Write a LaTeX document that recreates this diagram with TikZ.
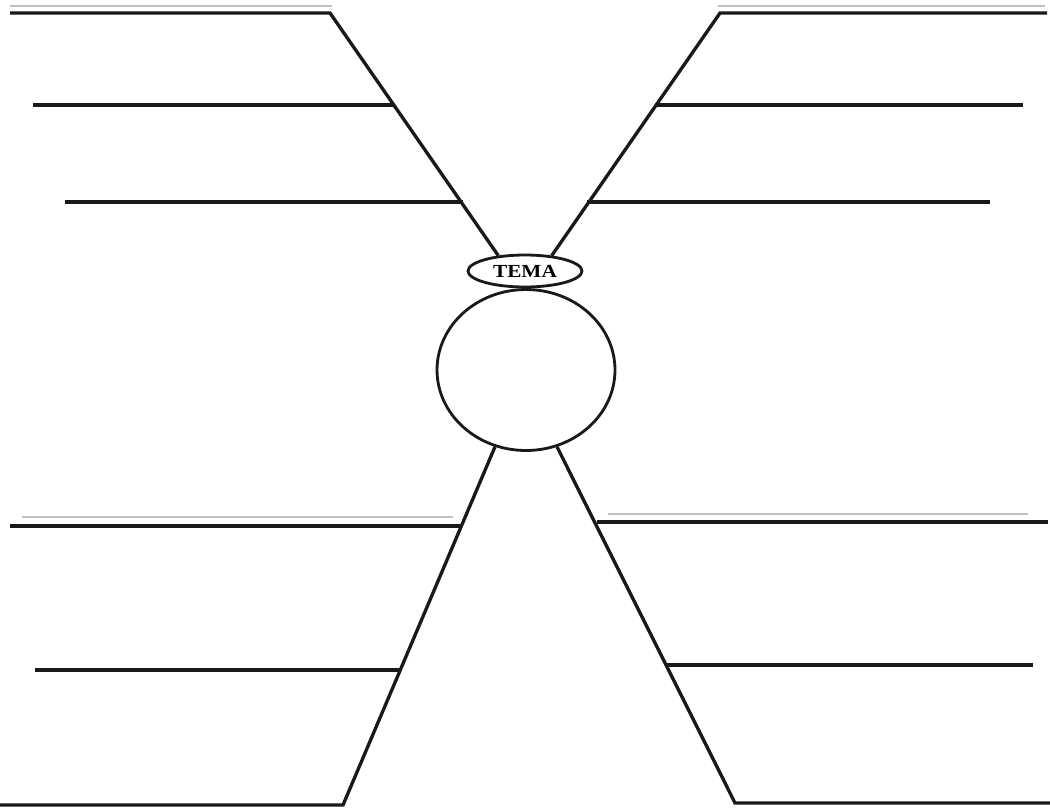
\documentclass[tikz,border=0pt]{standalone}
\usepackage{fontspec}
\setmainfont{Liberation Serif}
\usetikzlibrary{shapes.geometric}

\begin{document}
\begin{tikzpicture}[
  x=0.02cm, y=-0.02cm,
  arm/.style={line width=1.9pt, draw=black!90, line join=miter},
  rule/.style={line width=1.8pt, draw=black!90},
  shadow/.style={line width=1.2pt, draw=gray!50},
  hub/.style={ellipse, draw=black!90, line width=1.6pt, inner sep=0pt}
]
\useasboundingbox (0,0) rectangle (1050,809);

% ── centre ───────────────────────────────────────────────────────────────────
\node[hub, minimum width=2.28cm, minimum height=0.64cm,
      font=\bfseries\fontsize{10.5}{12}\selectfont] (tema) at (525,271) {\addfontfeature{FakeStretch=1.15}TEMA};
\node[hub, minimum width=3.56cm, minimum height=3.22cm] (ball) at (526,370) {};

% ── corners of the arms ──────────────────────────────────────────────────────
\coordinate (ulTop) at (330,13);
\coordinate (ulMid) at (395,105);
\coordinate (ulLow) at (463,202);
\coordinate (urTop) at (720,13);
\coordinate (urMid) at (655,105);
\coordinate (urLow) at (587,202);
\coordinate (llTop) at (460,526);
\coordinate (llMid) at (400,670);
\coordinate (llFoot) at (343,805);
\coordinate (lrTop) at (597,522);
\coordinate (lrMid) at (667,665);
\coordinate (lrFoot) at (735,803);

% ── upper arms ───────────────────────────────────────────────────────────────
\draw[shadow] (10,6) -- (332,6);
\draw[arm] (10,13) -- (ulTop) -- (tema.150);
\draw[rule] (33,105) -- (ulMid);
\draw[rule] (65,202) -- (ulLow);

\draw[shadow] (718,6) -- (1045,6);
\draw[arm] (1047,13) -- (urTop) -- (tema.30);
\draw[rule] (1023,105) -- (urMid);
\draw[rule] (990,202) -- (urLow);

% ── lower arms ───────────────────────────────────────────────────────────────
\draw[shadow] (22,517) -- (453,517);
\draw[rule] (10,526) -- (llTop);
\draw[rule] (35,670) -- (llMid);
\draw[arm] (ball.248) -- (llFoot) -- (0,805);

\draw[shadow] (608,514) -- (1028,514);
\draw[rule] (1048,522) -- (lrTop);
\draw[rule] (1033,665) -- (lrMid);
\draw[arm] (ball.292) -- (lrFoot) -- (1050,803);
\end{tikzpicture}
\end{document}
